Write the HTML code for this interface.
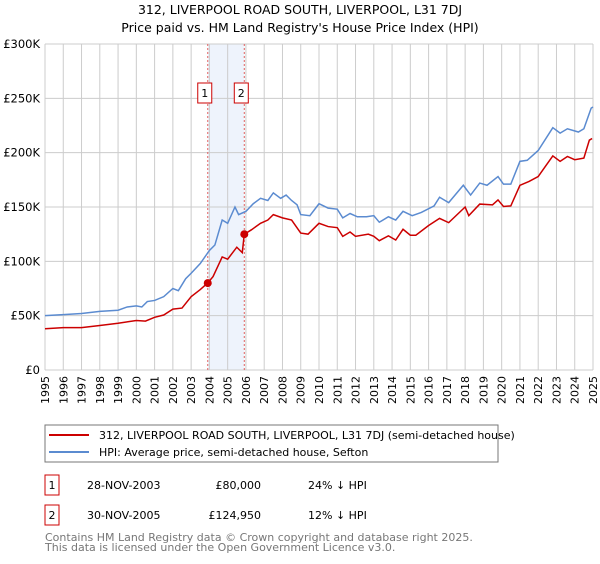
<!DOCTYPE html>
<html><head><meta charset="utf-8"><style>
body{margin:0;background:#fff;width:600px;height:560px;overflow:hidden;font-family:"DejaVu Sans","Liberation Sans",sans-serif;}
svg text{font-family:"DejaVu Sans","Liberation Sans",sans-serif;}
</style></head><body>
<svg id="c" width="600" height="560" xmlns="http://www.w3.org/2000/svg">
<text x="300" y="14" text-anchor="middle" font-size="12.5" fill="#000">312, LIVERPOOL ROAD SOUTH, LIVERPOOL, L31 7DJ</text>
<text x="300" y="32" text-anchor="middle" font-size="12.5" fill="#000">Price paid vs. HM Land Registry's House Price Index (HPI)</text>
<g id="grid"></g><g id="marks"></g>
<rect x="45" y="425" width="453" height="37" fill="#fff" stroke="#777"/>
<line x1="49" y1="435" x2="89" y2="435" stroke="#cc0000" stroke-width="2"/>
<text x="99" y="439" font-size="11">312, LIVERPOOL ROAD SOUTH, LIVERPOOL, L31 7DJ (semi-detached house)</text>
<line x1="49" y1="452" x2="89" y2="452" stroke="#5b8bd0" stroke-width="2"/>
<text x="99" y="456" font-size="11">HPI: Average price, semi-detached house, Sefton</text>
<rect x="45" y="475" width="14" height="20" fill="#fff" stroke="#cc0000"/>
<text x="52" y="489" font-size="11" text-anchor="middle">1</text>
<text x="87" y="489" font-size="11">28-NOV-2003</text>
<text x="261" y="489" font-size="11" text-anchor="end">£80,000</text>
<text x="308" y="489" font-size="11">24% ↓ HPI</text>
<rect x="45" y="505" width="14" height="20" fill="#fff" stroke="#cc0000"/>
<text x="52" y="519" font-size="11" text-anchor="middle">2</text>
<text x="87" y="519" font-size="11">30-NOV-2005</text>
<text x="261" y="519" font-size="11" text-anchor="end">£124,950</text>
<text x="308" y="519" font-size="11">12% ↓ HPI</text>
<text x="45" y="541" font-size="11" fill="#777">Contains HM Land Registry data © Crown copyright and database right 2025.</text>
<text x="45" y="551" font-size="11" fill="#777">This data is licensed under the Open Government Licence v3.0.</text>
</svg>
<script>
const hpiYears=[1995,1996,1997,1998,1999,1999.5,2000,2000.3,2000.6,2001,2001.5,2002,2002.3,2002.7,2003,2003.5,2004,2004.3,2004.7,2005,2005.4,2005.6,2006,2006.4,2006.8,2007.2,2007.5,2007.9,2008.2,2008.5,2008.8,2009,2009.5,2010,2010.5,2011,2011.3,2011.7,2012.1,2012.6,2013,2013.3,2013.8,2014.2,2014.6,2015.1,2015.6,2016.3,2016.6,2017.1,2017.9,2018.3,2018.8,2019.2,2019.8,2020.1,2020.5,2021,2021.4,2022,2022.8,2023.2,2023.6,2024.2,2024.5,2024.9,2025];
const hpiValues=[50,51,52,54,55,58,59,58,63,64,67.5,75,73,84,89,98,110,115,138,135,150,143,146,153,158,156,163,158,161,156,152,143,142,153,149,148,140,144,141,141,142,136,141,138,146,142,145,151,159,154,170,161,172,170,178,171,171,192,193,202,223,218,222,219,222,241,242];
const priceYears=[1995,1996,1997,1998,1999,2000,2000.5,2001,2001.5,2002,2002.5,2003,2003.5,2003.9,2004.2,2004.7,2005,2005.5,2005.8,2005.91,2006.3,2006.8,2007.2,2007.5,2008,2008.5,2009,2009.4,2010,2010.5,2011,2011.3,2011.7,2012,2012.7,2013,2013.3,2013.8,2014.2,2014.6,2015,2015.3,2016,2016.6,2017.1,2018,2018.2,2018.8,2019.5,2019.8,2020.1,2020.5,2021,2021.5,2022,2022.4,2022.8,2023.2,2023.6,2024,2024.5,2024.8,2024.95];
const priceValues=[38,39,39,41,43,45.6,45,48.5,50.6,56,57,67.5,74,80,86,104,102,113,108,124.95,129,135,138,143,140,138,126,125,135,132,131,123,127,123,125,123,119,123.5,119.6,129.5,124,124,133,139.5,135.6,150,142,152.7,152,156.5,150.5,151,170,173.5,178,187.6,197,192,196.5,193.5,195,211.5,213];
const saleYears=[2003.91,2005.91];
const saleValues=[80,124.95];
const saleLabels=["1","2"];
const yTicks=[0,50,100,150,200,250,300];
const yTickLabels=["£0","£50K","£100K","£150K","£200K","£250K","£300K"];
const xTicks=[1995,1996,1997,1998,1999,2000,2001,2002,2003,2004,2005,2006,2007,2008,2009,2010,2011,2012,2013,2014,2015,2016,2017,2018,2019,2020,2021,2022,2023,2024,2025];
const NS="http://www.w3.org/2000/svg";
const X0=45,X1=593,Y0=370,Y1=44;
const xs=y=>X0+(y-1995)/30*(X1-X0);
const ys=v=>Y0-v/300*(Y0-Y1);
function mk(t,a,p){const e=document.createElementNS(NS,t);for(const k in a)e.setAttribute(k,a[k]);p.appendChild(e);return e;}
const g=document.getElementById('grid'),m=document.getElementById('marks');
const band=mk('rect',{x:xs(saleYears[0]),y:Y1,width:xs(saleYears[1])-xs(saleYears[0]),height:Y0-Y1,fill:'#eef3fc'},g);


xTicks.forEach(t=>{
 const l=mk('line',{x1:xs(t),x2:xs(t),y1:Y1,y2:Y0,stroke:'#ccc'},g);
 
 
 const tx=mk('text',{x:0,y:0,'font-size':11,'text-anchor':'end',transform:`translate(${xs(t)+4},${Y0+6}) rotate(-90)`},g);
 tx.textContent=t;
 
 
});
yTicks.forEach((t,i)=>{
 const l=mk('line',{x1:X0,x2:X1,y1:ys(t),y2:ys(t),stroke:'#ccc'},g);
 
 
 const tx=mk('text',{x:40,y:ys(t)+4,'font-size':11.5,'text-anchor':'end'},g);
 tx.textContent=yTickLabels[i];
 
 
});
saleYears.forEach((s,i)=>{
 const l=mk('line',{x1:xs(s),x2:xs(s),y1:Y1,y2:Y0,stroke:'#e06060','stroke-dasharray':'2,2'},g);
 
 
 const r=mk('rect',{x:xs(s)-10,y:83,width:14,height:20,fill:'#fff',stroke:'#cc0000'},g);
 
 
 const tx=mk('text',{x:xs(s)-3,y:97,'font-size':11,'text-anchor':'middle'},g);
 tx.textContent=saleLabels[i];
 
 
});
const hp=mk('polyline',{points:hpiYears.map((y,i)=>xs(y)+','+ys(hpiValues[i])).join(' '),fill:'none',stroke:'#5b8bd0','stroke-width':1.5},m);


const pp=mk('polyline',{points:priceYears.map((y,i)=>xs(y)+','+ys(priceValues[i])).join(' '),fill:'none',stroke:'#cc0000','stroke-width':1.5},m);


saleYears.forEach((s,i)=>{
 const c=mk('circle',{cx:xs(s),cy:ys(saleValues[i]),r:4,fill:'#cc0000'},m);
 
 
});
</script>
</body></html>
